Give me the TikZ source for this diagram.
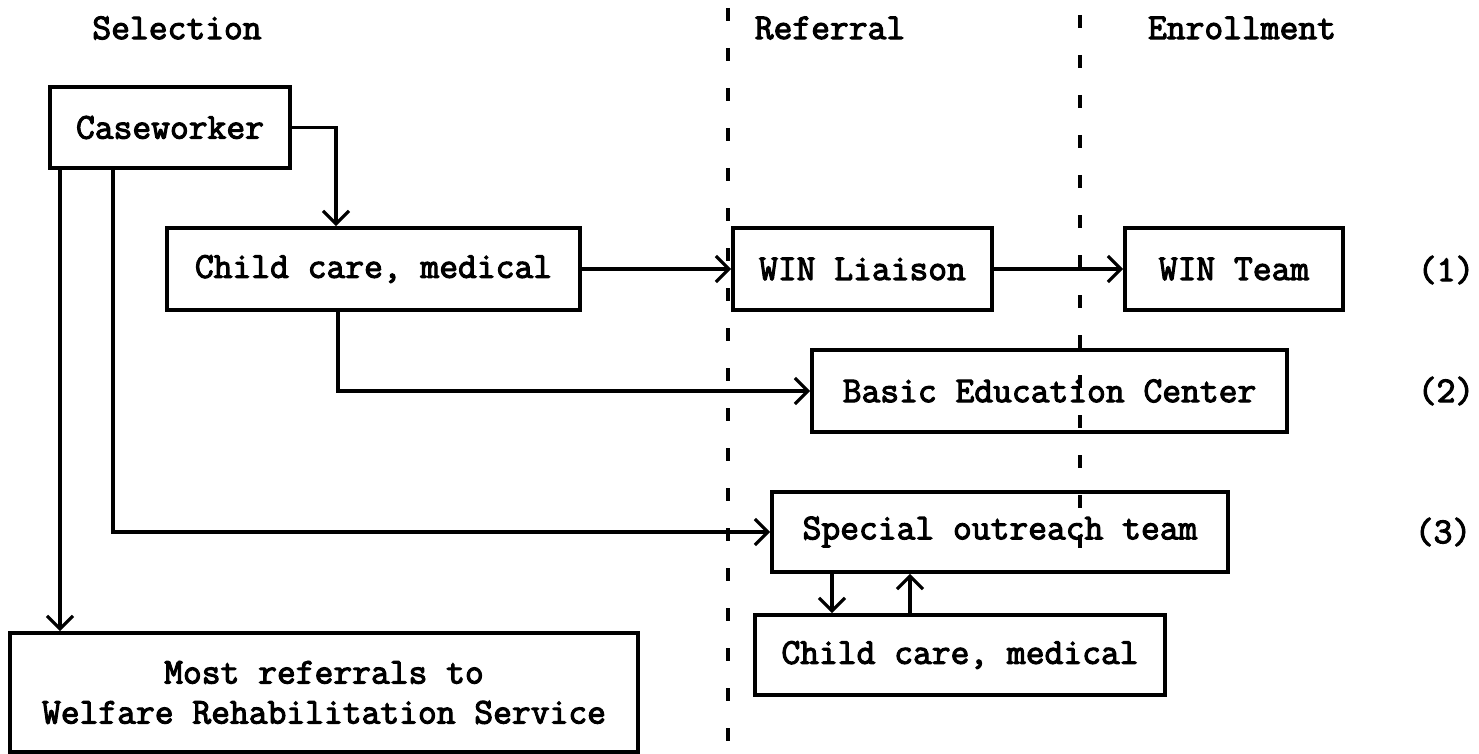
\documentclass[tikz,border=0pt]{standalone}
\usepackage{fontspec}
\newfontfamily\typewriter{Latin Modern Mono}[FakeBold=3]
\usetikzlibrary{arrows.meta}
\begin{document}
\begin{tikzpicture}[x=1pt,y=-1pt,
  font=\typewriter\fontsize{36.5}{40}\selectfont,
  box/.style={draw=black, line width=3.6pt, inner sep=0pt, align=center},
  conn/.style={draw=black, line width=3.2pt,
    -{Straight Barb[length=13pt,width=26pt,line width=3.2pt]}},
  divider/.style={draw=black, line width=3.6pt, dash pattern=on 13pt off 27pt},
  heading/.style={inner sep=0pt},
  tag/.style={inner sep=0pt}]
\useasboundingbox (0,0) rectangle (1479,754);

% column headings
\node[heading] (hsel) at (177,28) {Selection};
\node[heading] (href) at (830,28) {Referral};
\node[heading] (henr) at (1242,28) {Enrollment};

% stage dividers
\coordinate (d1a) at (728,8);
\coordinate (d1b) at (728,752);
\coordinate (d2a) at (1080,15);
\coordinate (d2b) at (1080,572);
\draw[divider] (d1a) -- (d1b);
\draw[divider] (d2a) -- (d2b);

% boxes
\node[box, minimum width=240pt, minimum height=81pt] (cw) at (170,127.5) {Caseworker};
\node[box, minimum width=413pt, minimum height=82pt] (cc1) at (373.5,269) {Child care, medical};
\node[box, minimum width=259pt, minimum height=82pt] (wl) at (862.5,269) {WIN Liaison};
\node[box, minimum width=218pt, minimum height=82pt] (wt) at (1234,269) {WIN Team};
\node[box, minimum width=475pt, minimum height=82pt] (bec) at (1049.5,391) {Basic Education Center};
\node[box, minimum width=456pt, minimum height=80pt] (sot) at (1000,532) {Special outreach team};
\node[box, minimum width=410pt, minimum height=80pt] (cc2) at (960,655) {Child care, medical};
\node[box, minimum width=628pt, minimum height=119pt] (mr) at (324,692.5)
  {Most referrals to\\Welfare Rehabilitation Service};

% route numbers
\node[tag] (t1) at (1446,270) {(1)};
\node[tag] (t2) at (1446,391) {(2)};
\node[tag] (t3) at (1443,532) {(3)};

% routing columns
\coordinate (xa) at (336,0);
\coordinate (xb) at (60,0);
\coordinate (xc) at (113,0);
\coordinate (xd) at (338,0);
\coordinate (xe) at (832,0);
\coordinate (xf) at (910,0);

% connectors
\draw[conn] (cw.east) -| (cc1.north -| xa);
\draw[conn] (cw.south -| xb) -- (mr.north -| xb);
\draw[conn] (cw.south -| xc) |- (sot.west);
\draw[conn] (cc1.south -| xd) |- (bec.west);
\draw[conn] (cc1.east) -- (wl.west);
\draw[conn] (wl.east) -- (wt.west);
\draw[conn] (sot.south -| xe) -- (cc2.north -| xe);
\draw[conn] (cc2.north -| xf) -- (sot.south -| xf);
\end{tikzpicture}
\end{document}
